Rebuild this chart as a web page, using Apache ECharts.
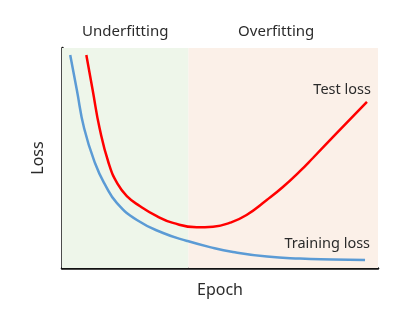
<!DOCTYPE html>
<html>
<head>
<meta charset="utf-8">
<script src="https://cdn.jsdelivr.net/npm/echarts@6/dist/echarts.min.js"></script>
<style>
  html, body { margin: 0; padding: 0; background: #fff; }
  #chart { width: 404px; height: 323px; }
</style>
</head>
<body>
<div id="chart"></div>
<script>
// Epoch / loss samples (normalised 0-100 scales)
const trainingLoss = [
  [2.6, 96.8], [4.7, 80.9], [7.0, 63.5], [10.5, 47.5], [13.7, 37.7],
  [17.4, 29.5], [23.7, 21.8], [32.0, 15.9], [39.6, 12.3], [46.8, 9.5],
  [54.1, 7.3], [64.9, 5.2], [75.3, 4.3], [85.8, 3.9], [95.9, 3.6]
];
const testLoss = [
  [7.7, 96.8], [9.7, 80.9], [11.9, 63.5], [14.8, 47.5], [17.6, 38.2],
  [20.6, 32.6], [24.6, 28.2], [30.0, 23.6], [35.1, 20.5], [42.6, 18.5],
  [47.8, 18.8], [53.2, 20.6], [58.4, 24.1], [64.8, 30.9], [69.9, 36.8],
  [75.3, 44.0], [79.4, 50.0], [87.0, 61.4], [96.5, 75.5]
];
const phaseNames = ['Underfitting', 'Overfitting'];
const phaseBoundary = 40;
const seriesNames = ['Training loss', 'Test loss'];
const axisNames = { x: 'Epoch', y: 'Loss' };

const textColor = '#2b2b2b';
const fontFamily = '"Noto Sans", "Open Sans", sans-serif';

const chart = echarts.init(document.getElementById('chart'), null, { renderer: 'canvas' });

// Invisible marker at a line's last point that carries its name
function endMarker(point, text, distance, offset) {
  return {
    symbol: 'circle',
    symbolSize: 0,
    silent: true,
    data: [{
      coord: point,
      label: {
        show: true,
        formatter: text,
        position: 'top',
        align: 'right',
        distance: distance,
        offset: offset,
        color: textColor,
        fontSize: 14.5,
        fontFamily: fontFamily
      }
    }]
  };
}

chart.setOption({
  animation: false,
  backgroundColor: '#fff',
  grid: { left: 62, right: 26, top: 48, bottom: 55 },
  xAxis: {
    type: 'value', min: 0, max: 100,
    name: axisNames.x, nameLocation: 'middle', nameGap: 14,
    nameTextStyle: { color: textColor, fontSize: 16, fontFamily: fontFamily },
    axisLine: { show: true, lineStyle: { color: '#111', width: 2.5 } },
    axisTick: { show: false }, axisLabel: { show: false }, splitLine: { show: false }
  },
  yAxis: {
    type: 'value', min: 0, max: 100,
    name: axisNames.y, nameLocation: 'middle', nameGap: 16,
    nameTextStyle: { color: textColor, fontSize: 16, fontFamily: fontFamily },
    axisLine: { show: true, lineStyle: { color: '#111', width: 2.5 } },
    axisTick: { show: false }, axisLabel: { show: false }, splitLine: { show: false }
  },
  series: [
    {
      name: seriesNames[0],
      type: 'line',
      data: trainingLoss,
      smooth: 0.5,
      showSymbol: false,
      lineStyle: { color: '#5b9bd5', width: 2.5 },
      z: 3,
      markPoint: endMarker(trainingLoss[trainingLoss.length - 1], seriesNames[0], 9, [5, 0]),
      markArea: {
        silent: true,
        z: 1,
        label: {
          show: true, position: 'top', distance: 9,
          color: textColor, fontSize: 15, fontFamily: fontFamily
        },
        data: [
          [{ name: phaseNames[0], xAxis: 0, itemStyle: { color: '#eef6ea' } }, { xAxis: phaseBoundary }],
          [{ name: phaseNames[1], xAxis: phaseBoundary, itemStyle: { color: '#fbf0e8' },
             label: { offset: [-7, 0] } }, { xAxis: 100 }]
        ]
      }
    },
    {
      name: seriesNames[1],
      type: 'line',
      data: testLoss,
      smooth: 0.5,
      showSymbol: false,
      lineStyle: { color: '#ff0000', width: 2.5 },
      z: 4,
      markPoint: endMarker(testLoss[testLoss.length - 1], seriesNames[1], 5, [4, 0])
    }
  ]
});
</script>
</body>
</html>
